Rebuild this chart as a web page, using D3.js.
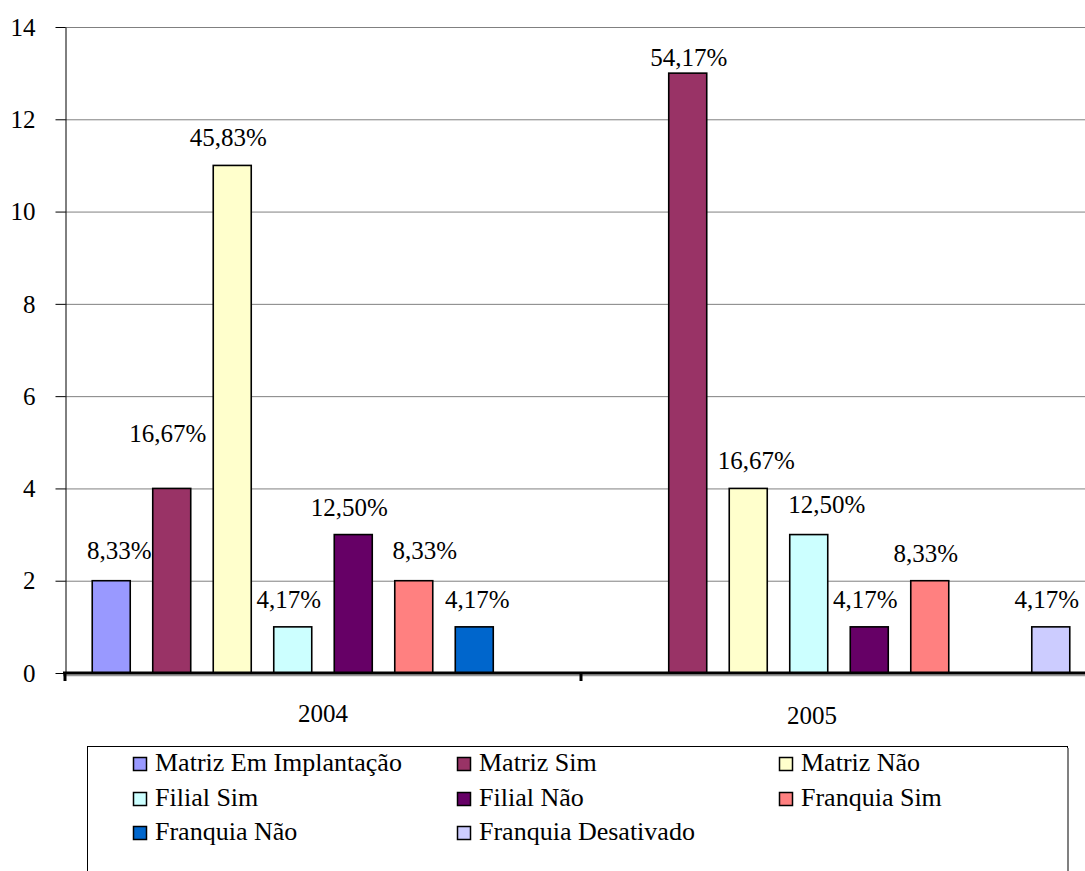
<!DOCTYPE html>
<html>
<head>
<meta charset="utf-8">
<script src="https://cdn.jsdelivr.net/npm/d3@7"></script>
<style>
  html, body { margin: 0; padding: 0; background: #fff; }
  svg { display: block; font-family: "Liberation Serif"; }
  svg text { font-family: "Liberation Serif" !important; fill: #000; }
</style>
</head>
<body>
<svg id="chart" width="1085" height="871" font-family="Liberation Serif"></svg>
<script>
// Establishments per year, by type and status
const years = ["2004", "2005"];
const seriesNames = [
  "Matriz Em Implantação", "Matriz Sim", "Matriz Não", "Filial Sim",
  "Filial Não", "Franquia Sim", "Franquia Não", "Franquia Desativado"
];
const seriesColors = [
  "#9999FF", "#993366", "#FFFFCC", "#CCFFFF",
  "#660066", "#FF8080", "#0066CC", "#CCCCFF"
];
const values2004 = [2, 4, 11, 1, 3, 2, 1, null];
const values2005 = [null, 13, 4, 3, 1, 2, null, 1];
const yTicks = [0, 2, 4, 6, 8, 10, 12, 14];

const valuesByYear = { "2004": values2004, "2005": values2005 };
const FONT = "Liberation Serif";

const svg = d3.select("#chart");
const W = 1085;
const plot = { left: 65, top: 27, bottom: 673 };

const y = d3.scaleLinear().domain([0, 14]).range([plot.bottom, plot.top]);
// each year band is 516px wide; the second band runs past the right edge
const x0 = d3.scaleBand().domain(years).range([plot.left, plot.left + 2 * 516]);
const x1 = d3.scaleBand().domain(seriesNames)
  .range([0, x0.bandwidth()]).paddingInner(0.372).paddingOuter(0.45);

// horizontal gridlines
svg.append("g")
  .attr("transform", `translate(${plot.left},0)`)
  .call(d3.axisLeft(y).tickValues(yTicks.filter(t => t > 0)).tickSize(-(W - plot.left)).tickFormat(""))
  .call(g => g.select(".domain").remove())
  .call(g => g.selectAll("line").attr("stroke", "#808080").attr("stroke-width", 1));

// y axis
svg.append("g")
  .attr("transform", `translate(${plot.left + 0.5},0)`)
  .call(d3.axisLeft(y).tickValues(yTicks).tickSize(10).tickPadding(20).tickSizeOuter(0))
  .attr("font-family", FONT)
  .call(g => g.select(".domain").attr("stroke", "#000"))
  .call(g => g.selectAll("line").attr("stroke", "#000"))
  .call(g => g.selectAll("text")
    .attr("font-size", 25)
    .attr("font-family", FONT)
    .attr("dy", "0.33em"));

// bars
const bars = [];
years.forEach(yr => {
  valuesByYear[yr].forEach((v, i) => {
    if (v != null) bars.push({ year: yr, series: seriesNames[i], color: seriesColors[i], value: v });
  });
});
const totals = {};
years.forEach(yr => { totals[yr] = d3.sum(valuesByYear[yr], v => v || 0); });

svg.append("g").selectAll("rect").data(bars).join("rect")
  .attr("x", d => x0(d.year) + x1(d.series))
  .attr("y", d => y(d.value))
  .attr("width", x1.bandwidth())
  .attr("height", d => y(0) - y(d.value))
  .attr("fill", d => d.color)
  .attr("stroke", "#000")
  .attr("stroke-width", 1.6);

// x axis: heavy baseline with a light shadow and year dividers
svg.append("line")
  .attr("x1", plot.left - 2).attr("x2", W)
  .attr("y1", plot.bottom + 2.5).attr("y2", plot.bottom + 2.5)
  .attr("stroke", "#999").attr("stroke-width", 1.5);
svg.append("line")
  .attr("x1", plot.left - 2).attr("x2", W)
  .attr("y1", plot.bottom).attr("y2", plot.bottom)
  .attr("stroke", "#000").attr("stroke-width", 3);
svg.append("g").selectAll("line").data(years).join("line")
  .attr("x1", d => x0(d)).attr("x2", d => x0(d))
  .attr("y1", plot.bottom).attr("y2", plot.bottom + 8)
  .attr("stroke", "#000").attr("stroke-width", 3);

// year labels
const yearShift = { "2004": 0, "2005": -27 };
const yearDrop = { "2004": 0, "2005": 2 };
svg.append("g").selectAll("text").data(years).join("text")
  .attr("x", d => x0(d) + x0.bandwidth() / 2 + yearShift[d])
  .attr("y", d => 722 + yearDrop[d])
  .attr("text-anchor", "middle")
  .attr("font-family", FONT)
  .attr("font-size", 25)
  .text(d => d);

// percentage labels above each bar
const pct = d => (d.value / totals[d.year] * 100).toFixed(2).replace(".", ",") + "%";
const labelNudge = {
  "2004|Matriz Em Implantação": [12, 22],
  "2004|Matriz Sim": [0, 46],
  "2004|Franquia Sim": [15, 22],
  "2004|Franquia Não": [7, 19],
  "2005|Matriz Sim": [5, 7],
  "2005|Matriz Não": [12, 19],
  "2005|Filial Sim": [22, 22]
};
svg.append("g").selectAll("text").data(bars).join("text")
  .attr("x", d => {
    const n = labelNudge[d.year + "|" + d.series];
    return x0(d.year) + x1(d.series) + x1.bandwidth() / 2 - 4 + (n ? n[0] : 0);
  })
  .attr("y", d => {
    const n = labelNudge[d.year + "|" + d.series];
    return y(d.value) - (n ? n[1] : 19);
  })
  .attr("text-anchor", "middle")
  .attr("font-family", FONT)
  .attr("font-size", 25)
  .text(pct);

// legend
const legend = svg.append("g");
legend.append("rect")
  .attr("x", 87.5).attr("y", 746.5).attr("width", 980).attr("height", 140)
  .attr("fill", "#fff").attr("stroke", "#000").attr("stroke-width", 1);
legend.append("line")
  .attr("x1", 1068).attr("x2", 1068).attr("y1", 748).attr("y2", 871)
  .attr("stroke", "#808080").attr("stroke-width", 2);

const colX = [133, 457, 779];
const rowY = [771, 806, 840];
const items = legend.selectAll("g.item").data(seriesNames).join("g")
  .attr("class", "item")
  .attr("transform", (d, i) => `translate(${colX[i % 3]},${rowY[Math.floor(i / 3)]})`);
items.append("rect")
  .attr("x", 0.5).attr("y", -13.5).attr("width", 13).attr("height", 13)
  .attr("fill", (d, i) => seriesColors[i])
  .attr("stroke", "#000").attr("stroke-width", 1.5);
items.append("text")
  .attr("x", 22).attr("y", 0)
  .attr("font-family", FONT)
  .attr("font-size", 26)
  .text(d => d);
</script>
</body>
</html>
